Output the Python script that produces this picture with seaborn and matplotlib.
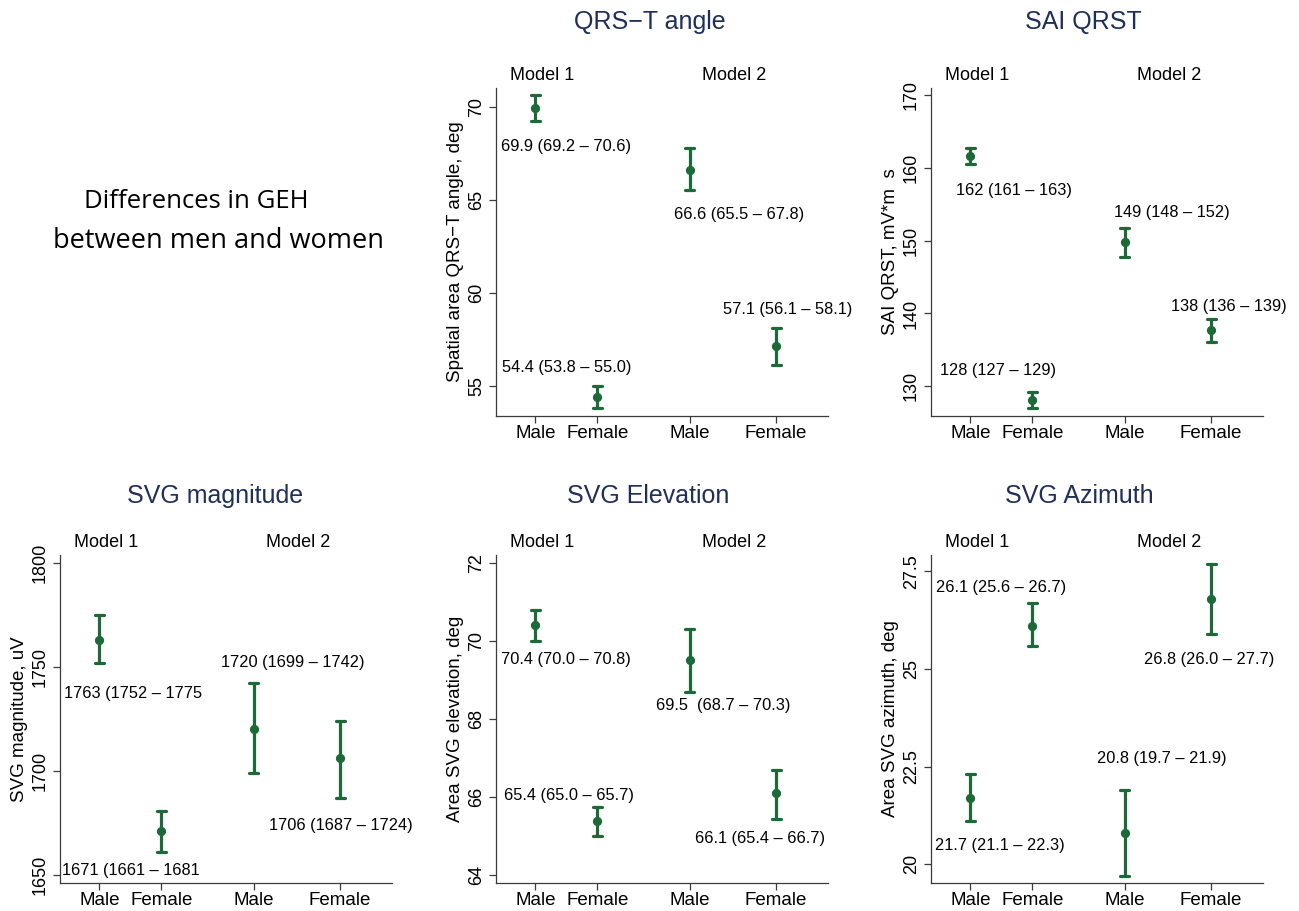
import numpy as np
import pandas as pd
import matplotlib
matplotlib.use("Agg")
import matplotlib.pyplot as plt
import matplotlib.transforms as mtransforms
import seaborn as sns

sns.set_theme(style="white")
plt.rcParams["font.family"] = ["Liberation Sans", "DejaVu Sans"]

# =============================================================================
# DATA  (order: Model 1 Male, Model 1 Female, Model 2 Male, Model 2 Female)
# =============================================================================

GROUPS = ["Male", "Female", "Male", "Female"]
MODELS = ["Model 1", "Model 2"]

qrst_est = [69.9, 54.4, 66.6, 57.1]
qrst_lo = [69.2, 53.8, 65.5, 56.1]
qrst_hi = [70.6, 55.0, 67.8, 58.1]
qrst_text = ["69.9 (69.2 – 70.6)", "54.4 (53.8 – 55.0)",
             "66.6 (65.5 – 67.8)", "57.1 (56.1 – 58.1)"]

sai_est = [161.7, 128.1, 149.8, 137.7]
sai_lo = [160.5, 127.0, 147.8, 136.1]
sai_hi = [162.8, 129.2, 151.8, 139.3]
sai_text = ["162 (161 – 163)", "128 (127 – 129)",
            "149 (148 – 152)", "138 (136 – 139)"]

mag_est = [1763, 1671, 1720, 1706]
mag_lo = [1752, 1661, 1699, 1687]
mag_hi = [1775, 1681, 1742, 1724]
mag_text = ["1763 (1752 – 1775", "1671 (1661 – 1681",
            "1720 (1699 – 1742)", "1706 (1687 – 1724)"]

elev_est = [70.4, 65.4, 69.5, 66.1]
elev_lo = [70.0, 65.0, 68.7, 65.45]
elev_hi = [70.8, 65.75, 70.3, 66.7]
elev_text = ["70.4 (70.0 – 70.8)", "65.4 (65.0 – 65.7)",
             "69.5  (68.7 – 70.3)", "66.1 (65.4 – 66.7)"]

azim_est = [21.7, 26.1, 20.8, 26.8]
azim_lo = [21.1, 25.6, 19.7, 25.9]
azim_hi = [22.3, 26.7, 21.9, 27.7]
azim_text = ["21.7 (21.1 – 22.3)", "26.1 (25.6 – 26.7)",
             "20.8 (19.7 – 21.9)", "26.8 (26.0 – 27.7)"]

# =============================================================================
# LAYOUT / STYLE
# =============================================================================

GREEN = "#1d6a38"
NAVY = "#1f2f5a"
SPINE = "#3a3a3a"
W, H = 1299, 911

X_POS = [0, 1, 2.5, 3.9]
XLIM = (-0.64, 4.74)
MODEL_X = [0.10, 3.22]

PANELS = [
    dict(title="QRS−T angle", ylabel="Spatial area QRS−T angle, deg",
         est=qrst_est, lo=qrst_lo, hi=qrst_hi, text=qrst_text,
         yticks=[55, 60, 65, 70], ylim=(53.36, 71.0),
         text_pos=[(0.50, 67.88), (0.50, 55.99), (3.30, 64.19), (4.08, 59.11)],
         box=(496, 88), title_xy=(650, 29)),
    dict(title="SAI QRST", ylabel="SAI QRST, mV*m  s",
         est=sai_est, lo=sai_lo, hi=sai_hi, text=sai_text,
         yticks=[130, 140, 150, 160, 170], ylim=(125.9, 171.0),
         text_pos=[(0.70, 156.9), (0.45, 132.1), (3.27, 153.9), (4.19, 140.9)],
         box=(931, 88), title_xy=(1083, 29)),
    dict(title="SVG magnitude", ylabel="SVG magnitude, uV",
         est=mag_est, lo=mag_lo, hi=mag_hi, text=mag_text,
         yticks=[1650, 1700, 1750, 1800], ylim=(1646.2, 1803.7),
         text_pos=[(0.55, 1737.2), (0.51, 1652.4), (3.13, 1752.0), (3.91, 1673.9)],
         box=(60, 555), title_xy=(215, 503)),
    dict(title="SVG Elevation", ylabel="Area SVG elevation, deg",
         est=elev_est, lo=elev_lo, hi=elev_hi, text=elev_text,
         yticks=[64, 66, 68, 70, 72], ylim=(63.8, 72.2),
         text_pos=[(0.49, 69.52), (0.55, 66.04), (3.04, 68.34), (3.63, 64.93)],
         box=(496, 555), title_xy=(648, 503)),
    dict(title="SVG Azimuth", ylabel="Area SVG azimuth, deg",
         est=azim_est, lo=azim_lo, hi=azim_hi, text=azim_text,
         yticks=[20, 22.5, 25, 27.5], ylim=(19.52, 27.92),
         text_pos=[(0.47, 20.47), (0.49, 27.08), (3.10, 22.72), (3.87, 25.25)],
         box=(931, 555), title_xy=(1079, 503)),
]
AX_W, AX_H = 332, 328


def long_frame(est, lo, hi):
    """Three rows per group: median = estimate, min/max = CI bounds."""
    rows = []
    for x, e, l, h in zip(X_POS, est, lo, hi):
        for v in (l, e, h):
            rows.append({"x": x, "value": v})
    return pd.DataFrame(rows)


def draw_panel(fig, p):
    left, top = p["box"]
    ax = fig.add_axes([left / W, 1 - (top + AX_H) / H, AX_W / W, AX_H / H])
    df = long_frame(p["est"], p["lo"], p["hi"])
    sns.pointplot(data=df, x="x", y="value", native_scale=True,
                  estimator="median", errorbar=("pi", 100), capsize=0.15,
                  color=GREEN, linestyle="none", markers="o", markersize=4.6,
                  err_kws={"linewidth": 2.3}, ax=ax)

    ax.set_xlim(*XLIM)
    ax.set_ylim(*p["ylim"])
    ax.set_xticks(X_POS)
    ax.set_xticklabels(GROUPS, fontsize=13.5)
    ax.set_yticks(p["yticks"])
    ax.set_yticklabels([f"{v:g}" for v in p["yticks"]], fontsize=13,
                       rotation=90, va="center")
    ax.set_xlabel("")
    ax.set_ylabel(p["ylabel"], fontsize=13.5, labelpad=3, color="black")
    ax.tick_params(axis="both", direction="out", length=5, width=0.9,
                   color=SPINE, bottom=True, left=True, labelcolor="black")
    ax.tick_params(axis="x", pad=1.5)
    ax.tick_params(axis="y", pad=3)
    sns.despine(ax=ax)
    for s in ("left", "bottom"):
        ax.spines[s].set_color(SPINE)
        ax.spines[s].set_linewidth(0.9)

    trans = mtransforms.blended_transform_factory(ax.transData, ax.transAxes)
    for mx, m in zip(MODEL_X, MODELS):
        ax.text(mx, 1 + 8 / AX_H, m, transform=trans, ha="center",
                va="baseline", fontsize=13, color="black")

    for (tx, ty), t in zip(p["text_pos"], p["text"]):
        ax.text(tx, ty, t, ha="center", va="center", fontsize=11.8,
                color="black", clip_on=False)

    tx, ty = p["title_xy"]
    fig.text(tx / W, 1 - ty / H, p["title"], ha="center", va="baseline",
             fontsize=18, color=NAVY)
    return ax


fig = plt.figure(figsize=(W / 100, H / 100), dpi=100)
fig.patch.set_facecolor("white")

for p in PANELS:
    draw_panel(fig, p)

intro_font = ["Open Sans", "DejaVu Sans"]
fig.text(84 / W, 1 - 208 / H, "Differences in GEH", ha="left",
         va="baseline", fontsize=18.5, family=intro_font, color="black")
fig.text(53 / W, 1 - 248 / H, "between men and women", ha="left",
         va="baseline", fontsize=19.5, family=intro_font, color="black")

fig.savefig("out.png", dpi=100, facecolor="white")
